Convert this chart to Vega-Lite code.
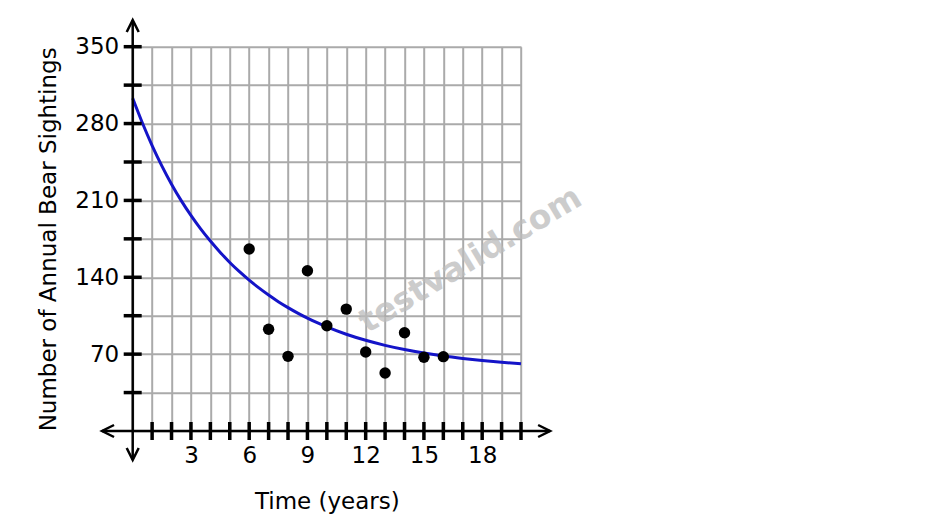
{
  "$schema": "https://vega.github.io/schema/vega-lite/v6.json",
  "autosize": {"type": "none"},
  "width": 388.3,
  "height": 384.3,
  "padding": {"left": 132.7, "top": 46.7, "right": 422, "bottom": 89},
  "config": {
    "view": {"stroke": null},
    "font": "DejaVu Sans"
  },
  "datasets": {
    "curve": [
      {"x": 0, "y": 303}, {"x": 0.5, "y": 280.5}, {"x": 1, "y": 260}, {"x": 1.5, "y": 241.5},
      {"x": 2, "y": 224.8}, {"x": 2.5, "y": 209.8}, {"x": 3, "y": 196.3}, {"x": 3.5, "y": 184},
      {"x": 4, "y": 173}, {"x": 4.5, "y": 162.9}, {"x": 5, "y": 153.5}, {"x": 5.5, "y": 145.1},
      {"x": 6, "y": 137.4}, {"x": 6.5, "y": 130.3}, {"x": 7, "y": 123.8}, {"x": 7.5, "y": 117.8},
      {"x": 8, "y": 112.4}, {"x": 8.5, "y": 107.4}, {"x": 9, "y": 102.8}, {"x": 9.5, "y": 98.6},
      {"x": 10, "y": 94.8}, {"x": 11, "y": 88.1}, {"x": 12, "y": 82.6}, {"x": 13, "y": 78},
      {"x": 14, "y": 74.2}, {"x": 15, "y": 71}, {"x": 16, "y": 68.3}, {"x": 17, "y": 66.1},
      {"x": 18, "y": 64.2}, {"x": 19, "y": 62.6}, {"x": 20, "y": 61.2}
    ],
    "points": [
      {"x": 6, "y": 165.8}, {"x": 7, "y": 92.6}, {"x": 8, "y": 68}, {"x": 9, "y": 146},
      {"x": 10, "y": 95.9}, {"x": 11, "y": 111}, {"x": 12, "y": 72}, {"x": 13, "y": 52.8},
      {"x": 14, "y": 89.5}, {"x": 15, "y": 67.1}, {"x": 16, "y": 67.7}
    ],
    "axisLines": [
      {"x": -1.58, "x2": 21.5, "y": 0, "y2": 0},
      {"x": 0, "x2": 0, "y": -26.4, "y2": 374.3}
    ],
    "arrows": [
      {"x": 21.5, "y": 0, "dir": "right"},
      {"x": -1.58, "y": 0, "dir": "left"},
      {"x": 0, "y": 374.3, "dir": "up"},
      {"x": 0, "y": -26.4, "dir": "down"}
    ],
    "xticks": [
      {"x": 1, "y": 0}, {"x": 2, "y": 0}, {"x": 3, "y": 0}, {"x": 4, "y": 0}, {"x": 5, "y": 0},
      {"x": 6, "y": 0}, {"x": 7, "y": 0}, {"x": 8, "y": 0}, {"x": 9, "y": 0}, {"x": 10, "y": 0},
      {"x": 11, "y": 0}, {"x": 12, "y": 0}, {"x": 13, "y": 0}, {"x": 14, "y": 0}, {"x": 15, "y": 0},
      {"x": 16, "y": 0}, {"x": 17, "y": 0}, {"x": 18, "y": 0}, {"x": 19, "y": 0}, {"x": 20, "y": 0}
    ],
    "yticks": [
      {"x": 0, "y": 35}, {"x": 0, "y": 70}, {"x": 0, "y": 105}, {"x": 0, "y": 140}, {"x": 0, "y": 175},
      {"x": 0, "y": 210}, {"x": 0, "y": 245}, {"x": 0, "y": 280}, {"x": 0, "y": 315}, {"x": 0, "y": 350}
    ],
    "watermark": [
      {"x": 17.4, "y": 155.7, "label": "testvalid.com"}
    ]
  },
  "encoding": {
    "x": {
      "field": "x", "type": "quantitative",
      "scale": {"domain": [0, 20], "nice": false, "zero": false},
      "axis": {
        "values": [0, 1, 2, 3, 4, 5, 6, 7, 8, 9, 10, 11, 12, 13, 14, 15, 16, 17, 18, 19, 20],
        "tickCount": 40,
        "format": "d",
        "labelExpr": "datum.value % 3 === 0 && datum.value > 0 ? datum.label : ''",
        "grid": true, "gridColor": "#aaaaaa", "gridWidth": 2, "gridOpacity": 1,
        "domain": false, "ticks": false, "tickSize": 0,
        "labelPadding": 13, "labelFontSize": 23, "labelColor": "#000000", "labelFont": "DejaVu Sans",
        "labelOverlap": false, "labelFlush": false,
        "title": "Time (years)", "titleFontSize": 23, "titleFontWeight": "normal", "titleColor": "#000000",
        "titleFont": "DejaVu Sans", "titlePadding": 23
      }
    },
    "y": {
      "field": "y", "type": "quantitative",
      "scale": {"domain": [0, 350], "nice": false, "zero": false},
      "axis": {
        "values": [0, 35, 70, 105, 140, 175, 210, 245, 280, 315, 350],
        "tickCount": 40,
        "format": "d",
        "labelExpr": "datum.value % 70 === 0 && datum.value > 0 ? datum.label : ''",
        "grid": true, "gridColor": "#aaaaaa", "gridWidth": 2, "gridOpacity": 1,
        "domain": false, "ticks": false, "tickSize": 0,
        "labelPadding": 14, "labelFontSize": 23, "labelColor": "#000000", "labelFont": "DejaVu Sans",
        "labelOverlap": false, "labelFlush": false,
        "title": "Number of Annual Bear Sightings", "titleFontSize": 23, "titleFontWeight": "normal",
        "titleColor": "#000000", "titleFont": "DejaVu Sans", "titlePadding": 14
      }
    }
  },
  "layer": [
    {
      "data": {"name": "curve"},
      "mark": {"type": "line", "color": "#1414c8", "strokeWidth": 3, "interpolate": "monotone"}
    },
    {
      "data": {"name": "points"},
      "mark": {"type": "circle", "color": "#000000", "size": 130, "opacity": 1}
    },
    {
      "data": {"name": "axisLines"},
      "mark": {"type": "rule", "color": "#000000", "strokeWidth": 2.5},
      "encoding": {
        "x2": {"field": "x2"},
        "y2": {"field": "y2"}
      }
    },
    {
      "data": {"name": "xticks"},
      "mark": {"type": "tick", "orient": "vertical", "color": "#000000", "size": 18, "thickness": 3.5, "opacity": 1}
    },
    {
      "data": {"name": "yticks"},
      "mark": {"type": "tick", "orient": "horizontal", "color": "#000000", "size": 18, "thickness": 3.5, "opacity": 1}
    },
    {
      "data": {"name": "arrows"},
      "mark": {"type": "point", "filled": false, "stroke": "#000000", "strokeWidth": 2.5, "size": 576, "opacity": 1},
      "encoding": {
        "shape": {
          "field": "dir", "type": "nominal", "legend": null,
          "scale": {
            "domain": ["right", "left", "up", "down"],
            "range": ["M-1,-0.5L0,0L-1,0.5", "M1,-0.5L0,0L1,0.5", "M-0.5,1L0,0L0.5,1", "M-0.5,-1L0,0L0.5,-1"]
          }
        }
      }
    },
    {
      "data": {"name": "watermark"},
      "mark": {"type": "text", "font": "DejaVu Sans", "fontSize": 33, "fontWeight": "bold", "color": "#bcbcbc", "opacity": 0.75, "angle": -31, "align": "center", "baseline": "middle"},
      "encoding": {
        "text": {"field": "label"}
      }
    }
  ]
}
